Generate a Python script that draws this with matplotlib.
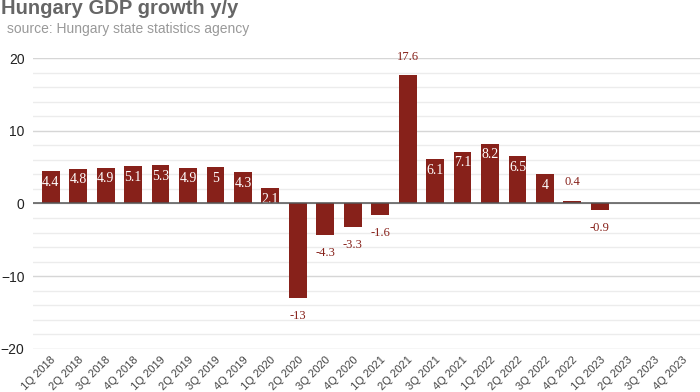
import matplotlib.pyplot as plt
from matplotlib.ticker import MultipleLocator

quarters = ["1Q 2018", "2Q 2018", "3Q 2018", "4Q 2018",
            "1Q 2019", "2Q 2019", "3Q 2019", "4Q 2019",
            "1Q 2020", "2Q 2020", "3Q 2020", "4Q 2020",
            "1Q 2021", "2Q 2021", "3Q 2021", "4Q 2021",
            "1Q 2022", "2Q 2022", "3Q 2022", "4Q 2022",
            "1Q 2023", "2Q 2023", "3Q 2023", "4Q 2023"]
growth = [4.4, 4.8, 4.9, 5.1, 5.3, 4.9, 5, 4.3, 2.1, -13, -4.3, -3.3,
          -1.6, 17.6, 6.1, 7.1, 8.2, 6.5, 4, 0.4, -0.9, None, None, None]
labels = ["4.4", "4.8", "4.9", "5.1", "5.3", "4.9", "5", "4.3", "2.1", "-13", "-4.3", "-3.3",
          "-1.6", "17.6", "6.1", "7.1", "8.2", "6.5", "4", "0.4", "-0.9", "", "", ""]

bar_col = "#87211a"
serif = ["Liberation Serif", "DejaVu Serif"]

fig = plt.figure(figsize=(7, 3.92), dpi=100)
ax = fig.add_axes([0.047, 0.11, 0.953, 0.742])

x = list(range(len(quarters)))
vals = [v if v is not None else 0 for v in growth]
ax.bar(x, vals, width=0.65, color=bar_col, zorder=3)

# labels: inside for big positive bars, outside otherwise
for i, v in enumerate(growth):
    if v is None:
        continue
    if v < 0:
        ax.annotate(labels[i], (i, v), xytext=(0, -13), textcoords="offset points",
                    ha="center", va="center", color=bar_col, fontsize=9, family=serif)
    elif v < 1.5 or v > 15:
        ax.annotate(labels[i], (i, v), xytext=(0, 13), textcoords="offset points",
                    ha="center", va="center", color=bar_col, fontsize=9, family=serif)
    else:
        ax.annotate(labels[i], (i, v), xytext=(0, -8), textcoords="offset points",
                    ha="center", va="center", color="white", fontsize=10, family=serif)

ax.set_ylim(-20, 20)
ax.set_xlim(-0.65, len(quarters) - 0.35)
ax.yaxis.set_major_locator(MultipleLocator(10))
ax.yaxis.set_minor_locator(MultipleLocator(2))
ax.grid(which="major", axis="y", color="#d6d6d6", linewidth=1, zorder=0)
ax.grid(which="minor", axis="y", color="#ececec", linewidth=1, zorder=0)
ax.axhline(0, color="#555555", linewidth=1.1, zorder=4)

ax.set_xticks(x)
ax.set_xticklabels(quarters, rotation=45, ha="right", rotation_mode="anchor",
                   fontsize=8, color="#444444", family="Liberation Sans")
ax.tick_params(axis="x", length=0, pad=4)
ax.tick_params(axis="y", which="both", length=0, pad=6, labelsize=10, labelcolor="#222222")
for lab in ax.get_yticklabels():
    lab.set_family("Liberation Sans")
for s in ax.spines.values():
    s.set_visible(False)

fig.text(0.002, 1 - 14 / 392, "Hungary GDP growth y/y", fontsize=14.5, fontweight="bold",
         color="#666666", family="Liberation Sans", va="baseline")
fig.text(0.01, 1 - 33 / 392, "source: Hungary state statistics agency", fontsize=10,
         color="#999999", family="Liberation Sans", va="baseline")

fig.savefig("out.png", dpi=100)
